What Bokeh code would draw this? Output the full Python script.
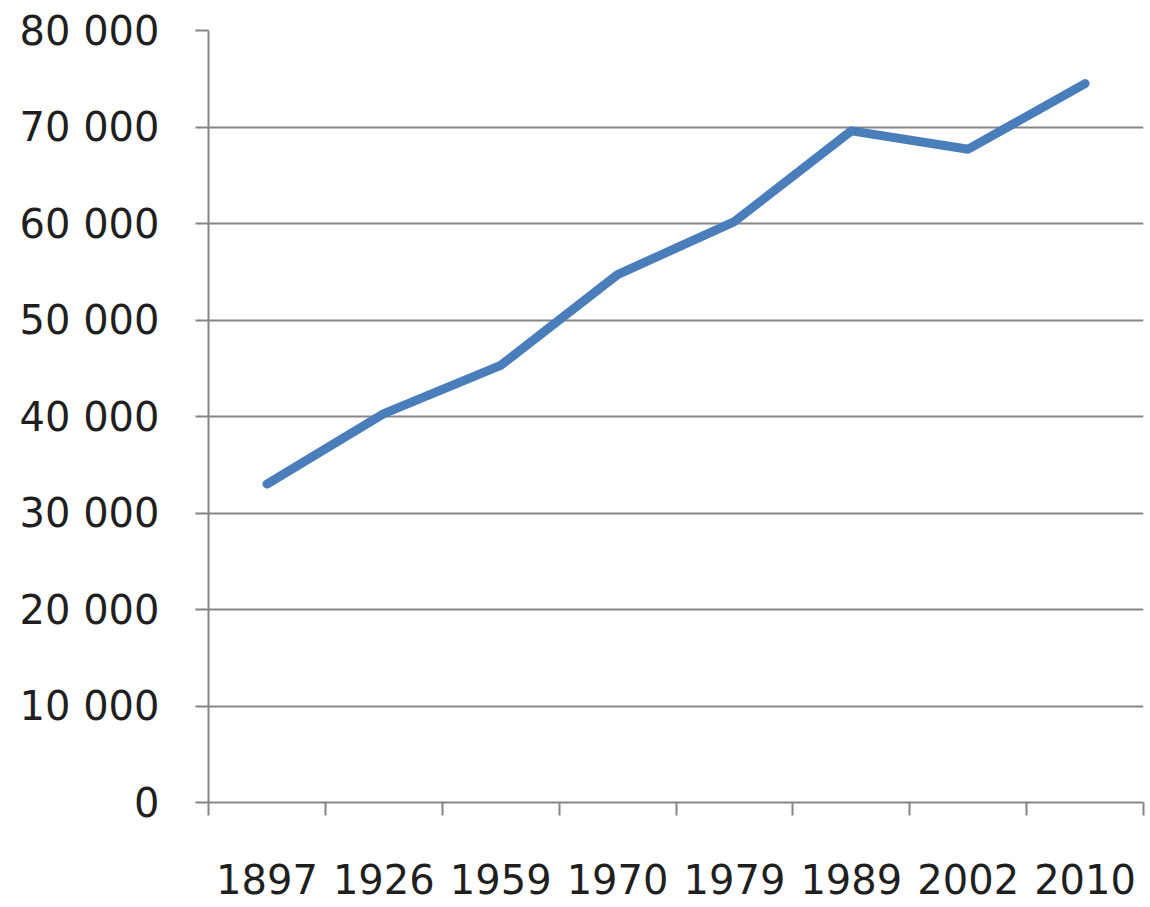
from bokeh.plotting import figure
from bokeh.models import (Range1d, LinearAxis, FixedTicker, CustomJSTickFormatter,
                          SingleIntervalTicker)
from bokeh.embed import file_html
from bokeh.resources import INLINE

years = ["1897", "1926", "1959", "1970", "1979", "1989", "2002", "2010"]
population = [33000, 40300, 45300, 54700, 60200, 69600, 67700, 74500]
y_min, y_max, y_step = 0, 80000, 10000

GRAY = "#868686"
TEXT = "#1f1f1f"
FONT = "DejaVu Sans"

n = len(years)
centers = [i + 0.5 for i in range(n)]      # category slot centres
boundaries = list(range(n + 1))            # category slot edges

p = figure(width=1150, height=905,
           x_range=Range1d(0, n),
           y_range=Range1d(y_min, y_max),
           x_axis_location=None, y_axis_location="left",
           output_backend="svg", toolbar_location=None,
           min_border_left=208, min_border_right=7,
           min_border_top=30, min_border_bottom=103)
p.outline_line_color = None
p.background_fill_color = "white"
p.border_fill_color = "white"

# y axis
yax = p.yaxis[0]
yax.ticker = SingleIntervalTicker(interval=y_step)
yax.formatter = CustomJSTickFormatter(
    code=r"return tick.toFixed(0).replace(/\B(?=(\d{3})+(?!\d))/g, ' ');")
yax.axis_line_color = GRAY
yax.axis_line_width = 2
yax.major_tick_line_color = GRAY
yax.major_tick_line_width = 2
yax.major_tick_in = 0
yax.major_tick_out = 13
yax.minor_tick_line_color = None
yax.major_label_text_font = FONT
yax.major_label_text_font_size = "40px"
yax.major_label_text_color = TEXT
yax.major_label_standoff = 36

p.ygrid.grid_line_color = GRAY
p.ygrid.grid_line_width = 2
p.xgrid.visible = False

# x axis: labels at category centres, tick marks on category boundaries
x_axis = LinearAxis(ticker=FixedTicker(ticks=centers, minor_ticks=boundaries),
                    major_label_overrides={c: y for c, y in zip(centers, years)},
                    axis_line_color=GRAY, axis_line_width=2,
                    major_tick_line_color=None,
                    major_tick_in=0, major_tick_out=0,
                    minor_tick_line_color=GRAY, minor_tick_line_width=2,
                    minor_tick_in=0, minor_tick_out=13,
                    major_label_text_font=FONT,
                    major_label_text_font_size="40px",
                    major_label_text_color=TEXT,
                    major_label_standoff=48)
p.add_layout(x_axis, "below")

p.line(x=centers, y=population, line_width=9, line_color="#4A7EBB",
       line_join="round", line_cap="round")

open("out.html", "w").write(file_html(p, INLINE))
